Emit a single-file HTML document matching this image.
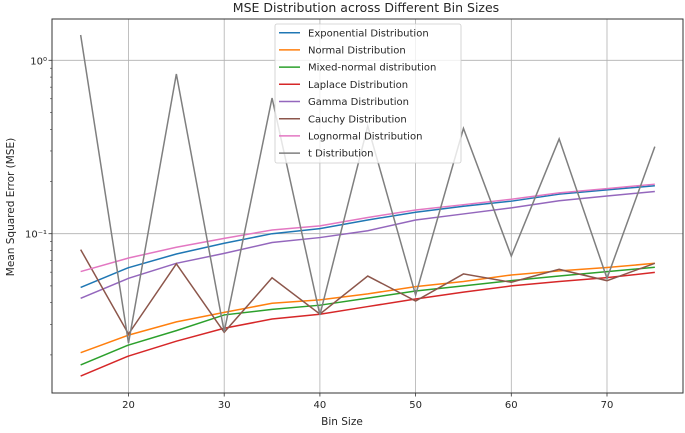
<!DOCTYPE html>
<html><head><meta charset="utf-8"><style>
body{margin:0;background:#fff;}
svg text{font-family:"DejaVu Sans","Liberation Sans",sans-serif;fill:#262626;}
</style></head><body>
<svg id="chart" width="685" height="428" viewBox="0 0 685 428" xmlns="http://www.w3.org/2000/svg">
<text x="366" y="12" font-size="12.5" text-anchor="middle">MSE Distribution across Different Bin Sizes</text>
<g id="grid"></g>
<g id="series"></g>
<rect x="52" y="19" width="631" height="374" fill="none" stroke="#333" stroke-width="1"/>
<g id="axes"></g>
<text x="342" y="425" font-size="10.5" text-anchor="middle">Bin Size</text>
<text transform="translate(14,207) rotate(-90)" font-size="10.5" text-anchor="middle">Mean Squared Error (MSE)</text>
<g id="legend"></g>
</svg>
<script>
const binSizes=[15,20,25,30,35,40,45,50,55,60,65,70,75];
const exponential=[0.049,0.0637,0.0764,0.0881,0.1,0.107,0.12,0.133,0.144,0.154,0.169,0.179,0.189];
const normal=[0.0206,0.026,0.031,0.0352,0.0397,0.0415,0.045,0.0495,0.053,0.0578,0.061,0.0638,0.0675];
const mixedNormal=[0.0175,0.0228,0.0276,0.034,0.0366,0.0387,0.0425,0.0467,0.05,0.0536,0.057,0.0604,0.064];
const laplace=[0.0151,0.0197,0.024,0.0285,0.0322,0.0343,0.038,0.042,0.046,0.05,0.053,0.0558,0.0598];
const gamma=[0.0424,0.0553,0.0675,0.077,0.089,0.095,0.104,0.12,0.13,0.141,0.155,0.165,0.175];
const cauchy=[0.081,0.0264,0.067,0.027,0.0557,0.0344,0.057,0.0409,0.0586,0.0525,0.0623,0.0536,0.0675];
const lognormal=[0.0605,0.0724,0.0835,0.094,0.105,0.111,0.124,0.137,0.147,0.158,0.172,0.182,0.193];
const tDist=[1.40,0.0234,0.834,0.0272,0.606,0.034,0.418,0.0443,0.405,0.0743,0.352,0.0553,0.318];
const seriesNames=["Exponential Distribution","Normal Distribution","Mixed-normal distribution","Laplace Distribution","Gamma Distribution","Cauchy Distribution","Lognormal Distribution","t Distribution"];
const xTicks=[20,30,40,50,60,70];
const yTicks=[0.1,1];
const yTickLabels=["10\u207B\u00B9","10\u2070"];

const NS="http://www.w3.org/2000/svg";
const L=52,R=683,T=19,B=393;
function xs(v){return 128.5+(v-20)*9.57;}
function ys(v){return 60.3-Math.log10(v)*173.4;}
function mk(tag,attrs,parent){const e=document.createElementNS(NS,tag);for(const k in attrs)e.setAttribute(k,attrs[k]);parent.appendChild(e);return e;}
const grid=document.getElementById('grid'),axes=document.getElementById('axes'),ser=document.getElementById('series'),leg=document.getElementById('legend');
xTicks.forEach(t=>{const x=xs(t);
 const g=mk('line',{x1:x,x2:x,y1:T,y2:B,stroke:'#b0b0b0','stroke-width':0.8},grid);
 
 
 const tk=mk('line',{x1:x,x2:x,y1:B,y2:B+3.5,stroke:'#333','stroke-width':0.8},axes);
 
 
 const tx=mk('text',{x:x,y:B+15,'font-size':10,'text-anchor':'middle'},axes);tx.textContent=t;
 
 
});
yTicks.forEach((t,i)=>{const y=ys(t);
 const g=mk('line',{x1:L,x2:R,y1:y,y2:y,stroke:'#b0b0b0','stroke-width':0.8},grid);
 
 
 const tk=mk('line',{x1:L-3.5,x2:L,y1:y,y2:y,stroke:'#333','stroke-width':0.8},axes);
 
 
 const tx=mk('text',{x:L-5,y:y+4,'font-size':10,'text-anchor':'end'},axes);tx.textContent=yTickLabels[i];
 
 
});
[0.01,0.1,1].forEach(d=>{for(let m=2;m<=9;m++){const v=d*m,y=ys(v);if(y<T||y>B)continue;
 const tk=mk('line',{x1:L-2,x2:L,y1:y,y2:y,stroke:'#333','stroke-width':0.6},axes);
 
 }});
const colors=['#1f77b4','#ff7f0e','#2ca02c','#d62728','#9467bd','#8c564b','#e377c2','#7f7f7f'];
const data=[exponential,normal,mixedNormal,laplace,gamma,cauchy,lognormal,tDist];
data.forEach((arr,i)=>{
 const p=mk('polyline',{points:arr.map((v,j)=>xs(binSizes[j])+','+ys(v)).join(' '),fill:'none',stroke:colors[i],'stroke-width':1.5},ser);
 
 
});
const box=mk('rect',{x:275,y:24,width:186,height:139,rx:2,fill:'#fff','fill-opacity':0.8,stroke:'#ccc','stroke-width':0.8},leg);


seriesNames.forEach((n,i)=>{const y=32.7+i*17.2;
 const ln=mk('line',{x1:279,x2:300,y1:y,y2:y,stroke:colors[i],'stroke-width':1.5},leg);
 
 
 const tx=mk('text',{x:308,y:y+3.6,'font-size':10},leg);tx.textContent=n;
 
 
});
</script>
</body></html>
